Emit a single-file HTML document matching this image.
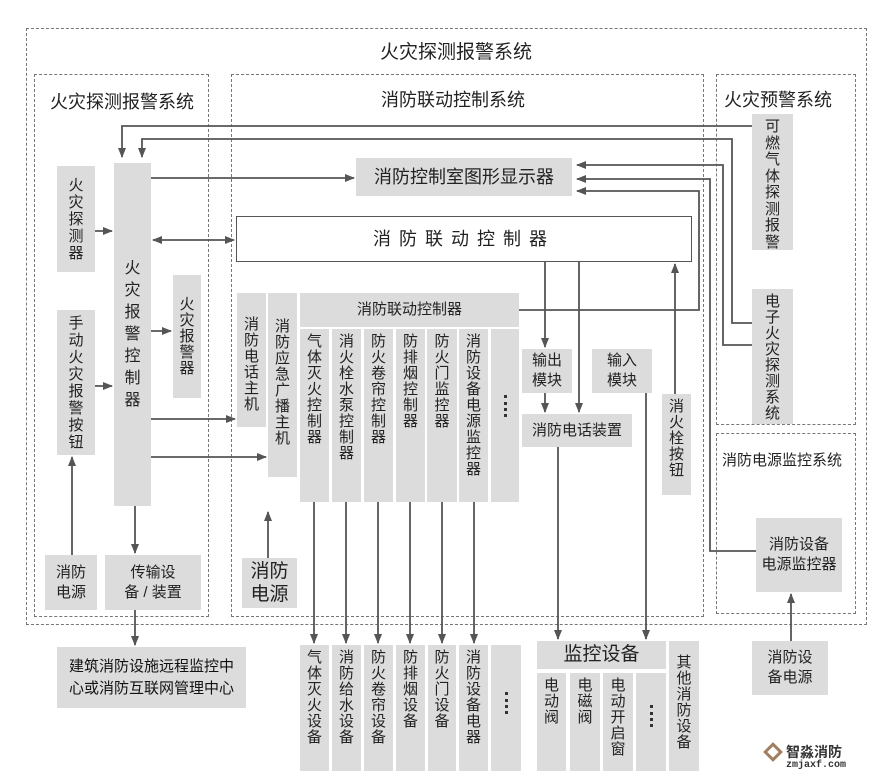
<!DOCTYPE html>
<html><head><meta charset="utf-8"><style>
body{margin:0;width:882px;height:777px;background:#fff;position:relative;overflow:hidden;font-family:"Liberation Sans","Noto Sans CJK SC",sans-serif;color:#222}
.d{position:absolute;border:1.5px dashed #777;box-sizing:border-box}
.b{position:absolute;background:#dcdcdc;display:flex;align-items:center;justify-content:center;font-size:15px;text-align:center;line-height:20px;box-sizing:border-box}
.v{flex-direction:column}
.v>span{display:block;width:15px;word-break:break-all;line-height:16px;text-align:center}
.t{justify-content:flex-start;padding-top:5px}
.tl{position:absolute;font-size:18px;white-space:nowrap}
svg{position:absolute;left:0;top:0}
</style></head><body>
<div class="d" style="left:26px;top:28px;width:841px;height:597px"></div>
<div class="d" style="left:34px;top:74px;width:175px;height:543px"></div>
<div class="d" style="left:231px;top:74px;width:473px;height:543px"></div>
<div class="d" style="left:716px;top:74px;width:140px;height:351px"></div>
<div class="d" style="left:716px;top:433px;width:140px;height:181px"></div>
<div class="tl" style="left:380px;top:37px;font-size:19px">火灾探测报警系统</div>
<div class="tl" style="left:50px;top:88px">火灾探测报警系统</div>
<div class="tl" style="left:381px;top:86px">消防联动控制系统</div>
<div class="tl" style="left:724px;top:86px">火灾预警系统</div>
<div class="tl" style="left:722px;top:449px;font-size:15px">消防电源监控系统</div>

<div class="b v" style="left:57px;top:166px;width:38px;height:106px"><span style="line-height:17px">火灾探测器</span></div>
<div class="b v" style="left:57px;top:310px;width:38px;height:145px"><span style="line-height:17px">手动火灾报警按钮</span></div>
<div class="b v" style="left:114px;top:163px;width:37px;height:343px"><span style="font-size:16px;width:16px;line-height:22px">火灾报警控制器</span></div>
<div class="b v" style="left:173px;top:275px;width:28px;height:123px"><span>火灾报警器</span></div>
<div class="b" style="left:45px;top:555px;width:52px;height:55px">消防<br>电源</div>
<div class="b" style="left:105px;top:555px;width:96px;height:55px">传输设<br>备 / 装置</div>
<div class="b" style="left:57px;top:647px;width:189px;height:61px;color:#111;line-height:22px">建筑消防设施远程监控中<br>心或消防互联网管理中心</div>

<div class="b" style="left:356px;top:158px;width:216px;height:38px;font-size:18px">消防控制室图形显示器</div>
<div class="b" style="left:236px;top:216px;width:456px;height:46px;background:#fff;border:1.5px solid #555;font-size:18px;letter-spacing:8px">消防联动控制器</div>
<div class="b v t" style="left:237px;top:293px;width:29px;height:134px;padding-top:24px"><span>消防电话主机</span></div>
<div class="b v t" style="left:268px;top:293px;width:29px;height:184px;padding-top:26px"><span>消防应急广播主机</span></div>
<div class="b" style="left:300px;top:293px;width:219px;height:34px">消防联动控制器</div>
<div class="b v t" style="left:300px;top:329px;width:29px;height:173px"><span>气体灭火控制器</span></div>
<div class="b v t" style="left:332px;top:329px;width:29px;height:173px"><span>消火栓水泵控制器</span></div>
<div class="b v t" style="left:364px;top:329px;width:29px;height:173px"><span>防火卷帘控制器</span></div>
<div class="b v t" style="left:396px;top:329px;width:29px;height:173px"><span>防排烟控制器</span></div>
<div class="b v t" style="left:427px;top:329px;width:30px;height:173px"><span>防火门监控器</span></div>
<div class="b v t" style="left:459px;top:329px;width:29px;height:173px"><span>消防设备电源监控器</span></div>
<div class="b" style="left:491px;top:329px;width:28px;height:173px"><div style="width:0;height:22px;border-left:3px dotted #333;margin-top:-20px"></div></div>
<div class="b" style="left:242px;top:558px;width:55px;height:50px;font-size:19px;line-height:23px">消防<br>电源</div>
<div class="b" style="left:522px;top:349px;width:50px;height:44px">输出<br>模块</div>
<div class="b" style="left:592px;top:349px;width:60px;height:44px">输入<br>模块</div>
<div class="b" style="left:522px;top:414px;width:110px;height:33px">消防电话装置</div>
<div class="b v t" style="left:662px;top:394px;width:29px;height:101px"><span>消火栓按钮</span></div>

<div class="b v t" style="left:752px;top:114px;width:41px;height:136px"><span style="line-height:16.5px">可燃气体探测报警</span></div>
<div class="b v t" style="left:752px;top:289px;width:41px;height:135px"><span style="line-height:16px">电子火灾探测系统</span></div>
<div class="b" style="left:756px;top:518px;width:86px;height:74px">消防设备<br>电源监控器</div>
<div class="b" style="left:752px;top:641px;width:76px;height:54px">消防设<br>备电源</div>

<div class="b v t" style="left:300px;top:645px;width:29px;height:126px"><span>气体灭火设备</span></div>
<div class="b v t" style="left:332px;top:645px;width:29px;height:126px"><span>消防给水设备</span></div>
<div class="b v t" style="left:364px;top:645px;width:29px;height:126px"><span>防火卷帘设备</span></div>
<div class="b v t" style="left:396px;top:645px;width:29px;height:126px"><span>防排烟设备</span></div>
<div class="b v t" style="left:428px;top:645px;width:28px;height:126px"><span>防火门设备</span></div>
<div class="b v t" style="left:459px;top:645px;width:29px;height:126px"><span>消防设备电器</span></div>
<div class="b" style="left:491px;top:645px;width:30px;height:126px"><div style="width:0;height:22px;border-left:3px dotted #333;margin-top:-10px"></div></div>
<div class="b" style="left:537px;top:641px;width:129px;height:28px;font-size:19px">监控设备</div>
<div class="b v t" style="left:537px;top:673px;width:29px;height:98px"><span>电动阀</span></div>
<div class="b v t" style="left:570px;top:673px;width:30px;height:98px"><span>电磁阀</span></div>
<div class="b v t" style="left:603px;top:673px;width:30px;height:98px"><span>电动开启窗</span></div>
<div class="b" style="left:636px;top:673px;width:30px;height:98px"><div style="width:0;height:22px;border-left:3px dotted #333;margin-top:-12px"></div></div>
<div class="b v t" style="left:669px;top:641px;width:30px;height:130px;padding-top:14px"><span>其他消防设备</span></div>

<div style="position:absolute;left:766px;top:745px;width:14px;height:14px;border:3px solid #a08060;transform:rotate(45deg);box-sizing:border-box"></div>
<div style="position:absolute;left:786px;top:742px;font-size:14px;font-weight:bold;color:#333">智淼消防</div>
<div style="position:absolute;left:786px;top:760px;font-size:10px;font-family:'Liberation Mono',monospace;font-weight:bold;color:#333">zmjaxf.com</div>

<svg width="882" height="777">
<defs><marker id="a" markerWidth="10" markerHeight="8" refX="9" refY="4" orient="auto" markerUnits="userSpaceOnUse"><path d="M0,0L10,4L0,8z" fill="#555"/></marker>
<marker id="s" markerWidth="10" markerHeight="8" refX="1" refY="4" orient="auto" markerUnits="userSpaceOnUse"><path d="M10,0L0,4L10,8z" fill="#555"/></marker></defs>
<g stroke="#555" stroke-width="1.8" fill="none" marker-end="url(#a)">
<polyline points="752,126 122,126 122,157"/>
<polyline points="752,323 732,323 732,139 142,139 142,157"/>
<polyline points="752,345 723,345 723,165 577,165"/>
<polyline points="756,551 710,551 710,179 577,179"/>
<polyline points="519,310 699,310 699,191 577,191"/>
<line x1="151" y1="178" x2="354" y2="178"/>
<line x1="153" y1="240" x2="234" y2="240" marker-start="url(#s)"/>
<line x1="95" y1="231" x2="112" y2="231"/>
<line x1="95" y1="386" x2="112" y2="386"/>
<line x1="151" y1="331" x2="171" y2="331"/>
<line x1="151" y1="419" x2="235" y2="419"/>
<line x1="151" y1="457" x2="266" y2="457"/>
<line x1="72" y1="555" x2="72" y2="457"/>
<line x1="135" y1="506" x2="135" y2="553"/>
<line x1="135" y1="610" x2="135" y2="645"/>
<line x1="268" y1="558" x2="268" y2="512"/>
<line x1="314" y1="502" x2="314" y2="643"/>
<line x1="346" y1="502" x2="346" y2="643"/>
<line x1="378" y1="502" x2="378" y2="643"/>
<line x1="410" y1="502" x2="410" y2="643"/>
<line x1="442" y1="502" x2="442" y2="643"/>
<line x1="474" y1="502" x2="474" y2="643"/>
<line x1="545" y1="262" x2="545" y2="347"/>
<line x1="545" y1="393" x2="545" y2="412"/>
<line x1="579" y1="262" x2="579" y2="412"/>
<line x1="675" y1="394" x2="675" y2="264"/>
<line x1="558" y1="447" x2="558" y2="639"/>
<line x1="646" y1="393" x2="646" y2="639"/>
<line x1="791" y1="641" x2="791" y2="594"/>
</g>
</svg>
</body></html>
